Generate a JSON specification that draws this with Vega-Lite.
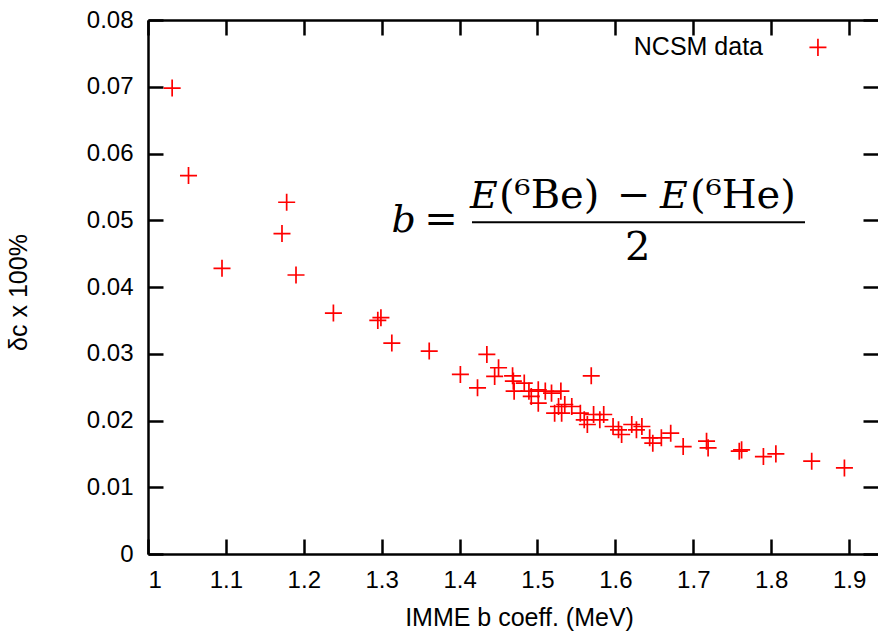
{
  "$schema": "https://vega.github.io/schema/vega-lite/v6.json",
  "width": 730,
  "height": 534,
  "autosize": {"type": "none"},
  "padding": {"left": 148, "top": 20, "right": 0, "bottom": 77},
  "background": "white",
  "config": {
    "view": {"stroke": null},
    "axis": {
      "grid": false,
      "domainColor": "black",
      "domainWidth": 2.5,
      "tickColor": "black",
      "tickWidth": 2.5,
      "labelFont": "Liberation Sans",
      "labelFontSize": 24,
      "labelColor": "black",
      "titleFont": "Liberation Sans",
      "titleFontSize": 25,
      "titleColor": "black",
      "titleFontWeight": "normal"
    }
  },
  "datasets": {
    "ncsm": [
      {"b": 1.031, "d": 0.0698}, {"b": 1.052, "d": 0.0567}, {"b": 1.095, "d": 0.0428},
      {"b": 1.172, "d": 0.0480}, {"b": 1.178, "d": 0.0527}, {"b": 1.190, "d": 0.0418},
      {"b": 1.238, "d": 0.0361}, {"b": 1.295, "d": 0.0350}, {"b": 1.299, "d": 0.0354},
      {"b": 1.313, "d": 0.0316}, {"b": 1.361, "d": 0.0304}, {"b": 1.401, "d": 0.0269},
      {"b": 1.423, "d": 0.0249}, {"b": 1.435, "d": 0.0299}, {"b": 1.445, "d": 0.0266},
      {"b": 1.450, "d": 0.0279}, {"b": 1.468, "d": 0.0267}, {"b": 1.469, "d": 0.0259},
      {"b": 1.470, "d": 0.0244}, {"b": 1.483, "d": 0.0256}, {"b": 1.489, "d": 0.0244},
      {"b": 1.492, "d": 0.0236}, {"b": 1.501, "d": 0.0246}, {"b": 1.501, "d": 0.0226},
      {"b": 1.510, "d": 0.0244}, {"b": 1.518, "d": 0.0241}, {"b": 1.522, "d": 0.0211},
      {"b": 1.527, "d": 0.0221}, {"b": 1.530, "d": 0.0244}, {"b": 1.531, "d": 0.0211},
      {"b": 1.535, "d": 0.0224}, {"b": 1.544, "d": 0.0221}, {"b": 1.555, "d": 0.0211},
      {"b": 1.560, "d": 0.0201}, {"b": 1.564, "d": 0.0194}, {"b": 1.569, "d": 0.0267},
      {"b": 1.572, "d": 0.0209}, {"b": 1.580, "d": 0.0201}, {"b": 1.585, "d": 0.0209},
      {"b": 1.597, "d": 0.0191}, {"b": 1.604, "d": 0.0186}, {"b": 1.608, "d": 0.0179},
      {"b": 1.621, "d": 0.0194}, {"b": 1.627, "d": 0.0186}, {"b": 1.634, "d": 0.0191},
      {"b": 1.644, "d": 0.0174}, {"b": 1.648, "d": 0.0166}, {"b": 1.659, "d": 0.0174},
      {"b": 1.671, "d": 0.0181}, {"b": 1.687, "d": 0.0161}, {"b": 1.717, "d": 0.0169},
      {"b": 1.719, "d": 0.0159}, {"b": 1.759, "d": 0.0154}, {"b": 1.762, "d": 0.0156},
      {"b": 1.790, "d": 0.0146}, {"b": 1.806, "d": 0.0150}, {"b": 1.852, "d": 0.0139},
      {"b": 1.894, "d": 0.0129}
    ],
    "legendMark": [{"b": 1.860, "d": 0.0759}],
    "legendText": [{"b": 1.7895, "d": 0.0747, "label": "NCSM data"}],
    "formulaItalic": [
      {"b": 1.3125, "d": 0.0483, "t": "b"},
      {"b": 1.4134, "d": 0.0519, "t": "E"},
      {"b": 1.6573, "d": 0.0519, "t": "E"}
    ],
    "formulaRoman": [
      {"b": 1.3545, "d": 0.0483, "t": "="},
      {"b": 1.4506, "d": 0.0519, "t": "(⁶Be)"},
      {"b": 1.6020, "d": 0.0519, "t": "−"},
      {"b": 1.6958, "d": 0.0519, "t": "(⁶He)"},
      {"b": 1.6123, "d": 0.0441, "t": "2"}
    ],
    "bar": [{"b": 1.4159, "b2": 1.8434, "d": 0.0497}]
  },
  "layer": [
    {
      "data": {"name": "ncsm"},
      "mark": {"type": "point", "shape": "M-1,0H1M0,-1V1", "filled": false, "stroke": "#ff0000", "strokeWidth": 1.7, "size": 290, "opacity": 1},
      "encoding": {
        "x": {
          "field": "b", "type": "quantitative",
          "scale": {"domain": [1, 1.9371], "nice": false, "zero": false},
          "axis": {
            "orient": "bottom",
            "values": [1, 1.1, 1.2, 1.3, 1.4, 1.5, 1.6, 1.7, 1.8, 1.9],
            "format": ".1~f",
            "ticks": false,
            "tickSize": 0,
            "labelPadding": 14,
            "title": "IMME b coeff. (MeV)",
            "titleX": 371,
            "titleY": 71,
            "titleBaseline": "alphabetic"
          }
        },
        "y": {
          "field": "d", "type": "quantitative",
          "scale": {"domain": [0, 0.08], "nice": false, "zero": false},
          "axis": {
            "orient": "left",
            "values": [0, 0.01, 0.02, 0.03, 0.04, 0.05, 0.06, 0.07, 0.08],
            "format": ".2~f",
            "ticks": false,
            "tickSize": 0,
            "labelPadding": 15,
            "title": "δc x 100%",
            "titleFontSize": 25,
            "titleX": -117,
            "titleY": 272
          }
        }
      }
    },
    {
      "data": {"name": "legendMark"},
      "mark": {"type": "point", "shape": "M-1,0H1M0,-1V1", "filled": false, "stroke": "#ff0000", "strokeWidth": 1.7, "size": 290, "opacity": 1},
      "encoding": {
        "x": {
          "field": "b", "type": "quantitative",
          "scale": {"domain": [1, 1.9371], "nice": false, "zero": false},
          "axis": {
            "orient": "top",
            "offset": -534,
            "values": [1, 1.1, 1.2, 1.3, 1.4, 1.5, 1.6, 1.7, 1.8, 1.9],
            "labels": false,
            "domain": false,
            "tickSize": 15,
            "title": null
          }
        },
        "y": {
          "field": "d", "type": "quantitative",
          "scale": {"domain": [0, 0.08], "nice": false, "zero": false},
          "axis": {
            "orient": "right",
            "offset": -730,
            "values": [0, 0.01, 0.02, 0.03, 0.04, 0.05, 0.06, 0.07, 0.08],
            "labels": false,
            "domain": false,
            "tickSize": 15,
            "title": null
          }
        }
      }
    },
    {
      "data": {"name": "legendText"},
      "mark": {"type": "text", "align": "right", "baseline": "alphabetic", "font": "Liberation Sans", "fontSize": 25, "color": "black"},
      "encoding": {
        "x": {
          "field": "b", "type": "quantitative",
          "axis": {
            "orient": "bottom",
            "offset": -534,
            "values": [1, 1.1, 1.2, 1.3, 1.4, 1.5, 1.6, 1.7, 1.8, 1.9],
            "labels": false,
            "domain": true,
            "tickSize": 15,
            "title": null
          }
        },
        "y": {
          "field": "d", "type": "quantitative",
          "axis": {
            "orient": "left",
            "offset": -730,
            "values": [0, 0.01, 0.02, 0.03, 0.04, 0.05, 0.06, 0.07, 0.08],
            "labels": false,
            "domain": false,
            "tickSize": 15,
            "title": null
          }
        },
        "text": {"field": "label"}
      }
    },
    {
      "data": {"name": "formulaItalic"},
      "mark": {"type": "text", "align": "left", "baseline": "alphabetic", "font": "DejaVu Serif", "fontStyle": "italic", "fontSize": 38, "color": "black"},
      "encoding": {
        "x": {"field": "b", "type": "quantitative", "axis": null},
        "y": {"field": "d", "type": "quantitative", "axis": null},
        "text": {"field": "t"}
      }
    },
    {
      "data": {"name": "formulaRoman"},
      "mark": {"type": "text", "align": "left", "baseline": "alphabetic", "font": "DejaVu Serif", "fontSize": 40, "color": "black"},
      "encoding": {
        "x": {"field": "b", "type": "quantitative", "axis": null},
        "y": {"field": "d", "type": "quantitative", "axis": null},
        "text": {"field": "t"}
      }
    },
    {
      "data": {"name": "bar"},
      "mark": {"type": "rule", "strokeWidth": 2, "color": "black"},
      "encoding": {
        "x": {"field": "b", "type": "quantitative", "axis": null},
        "x2": {"field": "b2"},
        "y": {"field": "d", "type": "quantitative", "axis": null}
      }
    }
  ],
  "resolve": {"axis": {"x": "independent", "y": "independent"}}
}
